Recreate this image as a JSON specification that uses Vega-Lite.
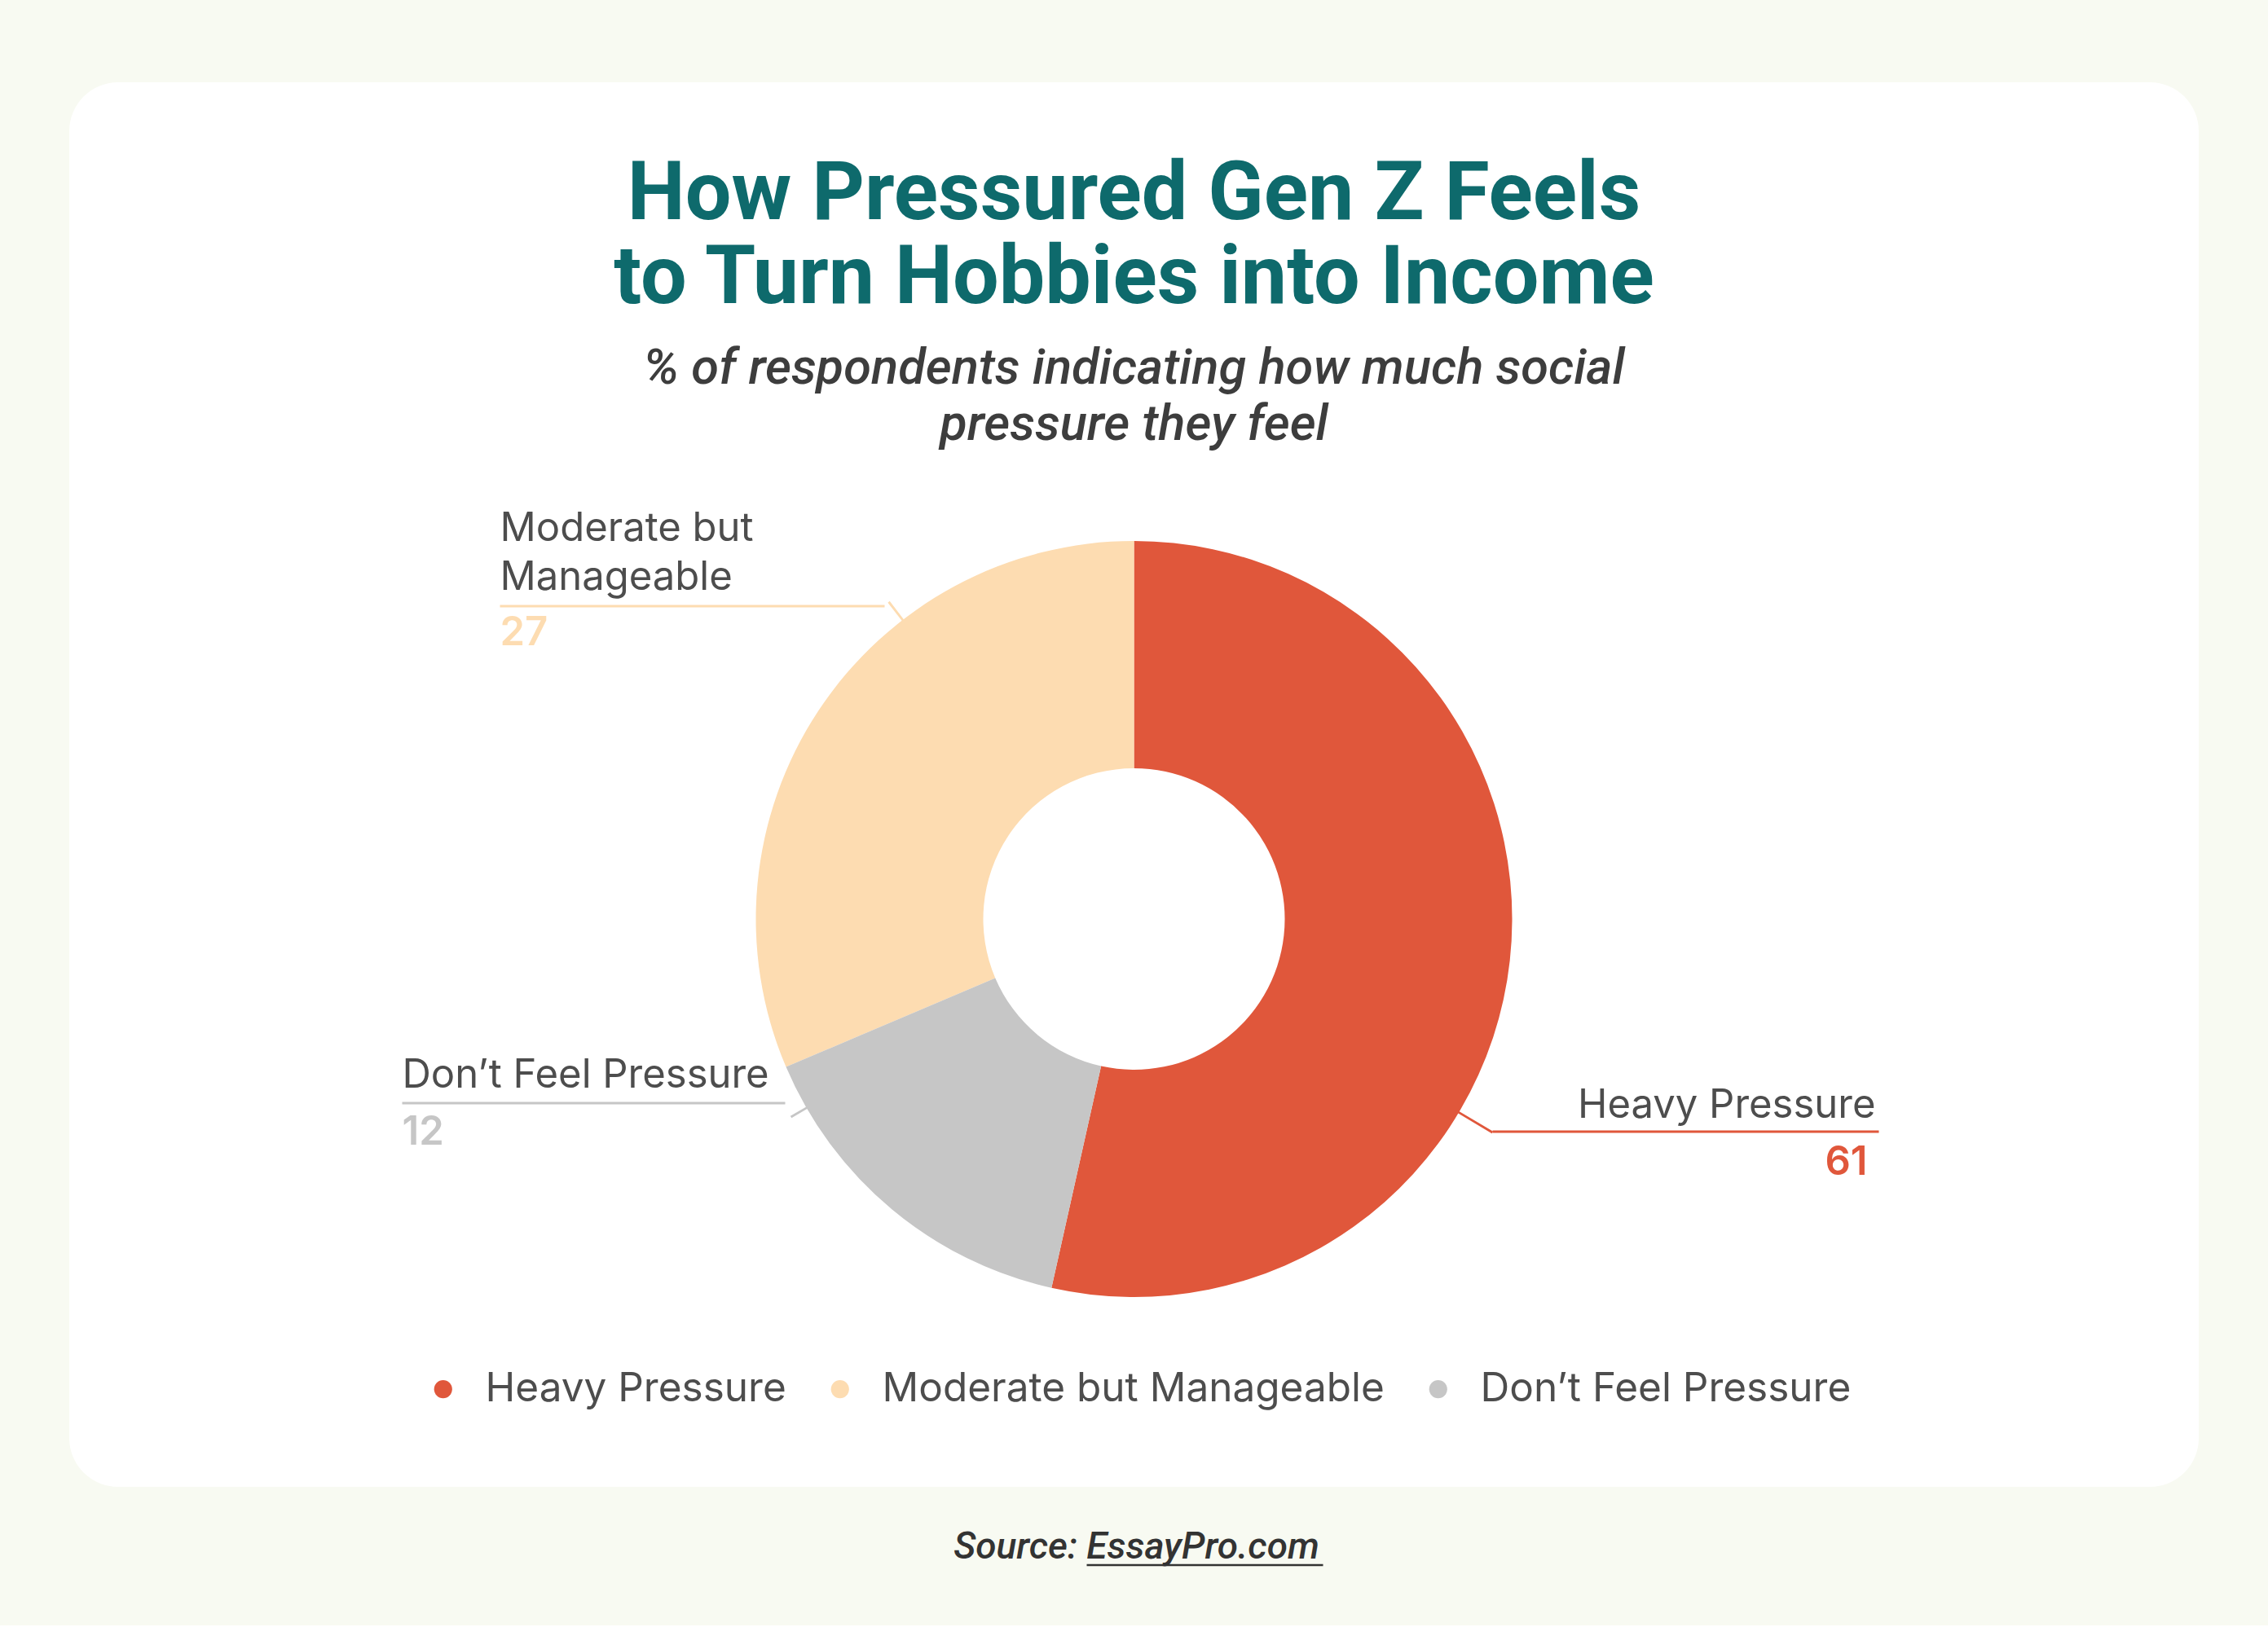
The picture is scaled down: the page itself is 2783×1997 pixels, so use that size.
{
  "$schema": "https://vega.github.io/schema/vega-lite/v6.json",
  "background": "#f8faf2",
  "padding": {"left": 85, "top": 101, "right": 85, "bottom": 72},
  "autosize": {"type": "pad"},
  "width": 2613,
  "height": 1724,
  "view": {"fill": "#ffffff", "stroke": null, "cornerRadius": 60},
  "title": {
    "text": ["How Pressured Gen Z Feels", "to Turn Hobbies into Income"],
    "subtitle": ["% of respondents indicating how much social", "pressure they feel"],
    "orient": "top",
    "anchor": "middle",
    "offset": -452,
    "font": "Roboto",
    "fontSize": 100.5,
    "fontWeight": "bold",
    "color": "#0e6a6c",
    "lineHeight": 103,
    "subtitleFont": "Roboto",
    "subtitleFontSize": 61.5,
    "subtitleFontStyle": "italic",
    "subtitleFontWeight": 500,
    "subtitleColor": "#3d3d3d",
    "subtitleLineHeight": 69,
    "subtitlePadding": 28
  },
  "data": {
    "values": [
      {"category": "Heavy Pressure", "percent": 61, "arc_share": 53.5},
      {"category": "Moderate but Manageable", "percent": 27, "arc_share": 31.4},
      {"category": "Don’t Feel Pressure", "percent": 12, "arc_share": 15.1}
    ]
  },
  "encoding": {
    "y": {"datum": "chart", "type": "nominal", "scale": {"type": "point", "align": 0.5957}, "axis": null}
  },
  "layer": [
    {
      "mark": {"type": "arc", "innerRadius": 185, "outerRadius": 464},
      "encoding": {
        "theta": {
          "field": "arc_share",
          "type": "quantitative",
          "stack": true,
          "scale": {"range": [-1.9729, 4.3103]}
        },
        "order": {"field": "category", "sort": "descending"},
        "color": {
          "field": "category",
          "type": "nominal",
          "scale": {
            "domain": ["Heavy Pressure", "Moderate but Manageable", "Don’t Feel Pressure"],
            "range": ["#e0573b", "#fddcb1", "#c6c6c6"]
          },
          "legend": {
            "title": null,
            "orient": "none",
            "direction": "horizontal",
            "legendX": 434,
            "legendY": 1579,
            "padding": 0,
            "symbolType": "circle",
            "symbolSize": 490,
            "symbolStrokeWidth": 0,
            "labelFont": "Inter",
            "labelFontSize": 49.5,
            "labelColor": "#4d4d4d",
            "labelOffset": 27,
            "labelLimit": 1000,
            "columnPadding": 41
          }
        }
      }
    },
    {
      "transform": [{"filter": "datum.category == 'Heavy Pressure'"}],
      "mark": {"type": "arc", "theta": 2.105, "theta2": 2.111, "innerRadius": 460, "outerRadius": 512, "color": "#e0573b"}
    },
    {
      "transform": [{"filter": "datum.category == 'Moderate but Manageable'"}],
      "mark": {"type": "arc", "theta": 5.622, "theta2": 5.628, "innerRadius": 458, "outerRadius": 492, "color": "#fddcb1"}
    },
    {
      "transform": [{"filter": "datum.category == 'Don’t Feel Pressure'"}],
      "mark": {"type": "arc", "theta": 4.186, "theta2": 4.192, "innerRadius": 460, "outerRadius": 486, "color": "#c6c6c6"}
    },
    {
      "transform": [{"filter": "datum.category == 'Heavy Pressure'"}],
      "mark": {"type": "tick", "orient": "horizontal", "size": 474, "thickness": 3, "xOffset": 677, "yOffset": 261, "color": "#e0573b", "opacity": 1}
    },
    {
      "transform": [{"filter": "datum.category == 'Moderate but Manageable'"}],
      "mark": {"type": "tick", "orient": "horizontal", "size": 472, "thickness": 3, "xOffset": -542, "yOffset": -384, "color": "#fddcb1", "opacity": 1}
    },
    {
      "transform": [{"filter": "datum.category == 'Don’t Feel Pressure'"}],
      "mark": {"type": "tick", "orient": "horizontal", "size": 470, "thickness": 3, "xOffset": -663, "yOffset": 226, "color": "#c6c6c6", "opacity": 1}
    },
    {
      "transform": [{"filter": "datum.category == 'Heavy Pressure'"}],
      "mark": {"type": "text", "align": "right", "baseline": "alphabetic", "dx": 910, "dy": 244, "font": "Inter", "fontSize": 49, "color": "#4d4d4d"},
      "encoding": {"text": {"field": "category"}}
    },
    {
      "transform": [{"filter": "datum.category == 'Heavy Pressure'"}],
      "mark": {"type": "text", "align": "right", "baseline": "alphabetic", "dx": 900, "dy": 314, "font": "Inter", "fontSize": 49, "fontWeight": 600, "color": "#e0573b"},
      "encoding": {"text": {"field": "percent", "type": "quantitative"}}
    },
    {
      "transform": [{"filter": "datum.category == 'Moderate but Manageable'"}],
      "mark": {"type": "text", "align": "left", "baseline": "alphabetic", "dx": -778, "dy": -464, "lineHeight": 60, "lineBreak": {"expr": "regexp(' (?=Manageable)')"}, "font": "Inter", "fontSize": 49, "color": "#4d4d4d"},
      "encoding": {"text": {"field": "category"}}
    },
    {
      "transform": [{"filter": "datum.category == 'Moderate but Manageable'"}],
      "mark": {"type": "text", "align": "left", "baseline": "alphabetic", "dx": -778, "dy": -336, "font": "Inter", "fontSize": 49, "fontWeight": 600, "color": "#fddcb1"},
      "encoding": {"text": {"field": "percent", "type": "quantitative"}}
    },
    {
      "transform": [{"filter": "datum.category == 'Don’t Feel Pressure'"}],
      "mark": {"type": "text", "align": "left", "baseline": "alphabetic", "dx": -898, "dy": 207, "font": "Inter", "fontSize": 49, "color": "#4d4d4d"},
      "encoding": {"text": {"field": "category"}}
    },
    {
      "transform": [{"filter": "datum.category == 'Don’t Feel Pressure'"}],
      "mark": {"type": "text", "align": "left", "baseline": "alphabetic", "dx": -898, "dy": 277, "font": "Inter", "fontSize": 49, "fontWeight": 600, "color": "#c6c6c6"},
      "encoding": {"text": {"field": "percent", "type": "quantitative"}}
    },
    {
      "transform": [{"filter": "datum.category == 'Heavy Pressure'"}],
      "mark": {"type": "text", "align": "center", "baseline": "alphabetic", "dx": 3, "dy": 785, "font": "Roboto", "fontSize": 46, "fontStyle": "italic", "fontWeight": 500, "color": "#333333"},
      "encoding": {"text": {"value": "Source: EssayPro.com"}}
    },
    {
      "transform": [{"filter": "datum.category == 'Heavy Pressure'"}],
      "mark": {"type": "tick", "orient": "horizontal", "size": 290, "thickness": 2.5, "xOffset": 87, "yOffset": 793, "color": "#333333", "opacity": 1}
    }
  ],
  "config": {
    "view": {"stroke": null}
  }
}
